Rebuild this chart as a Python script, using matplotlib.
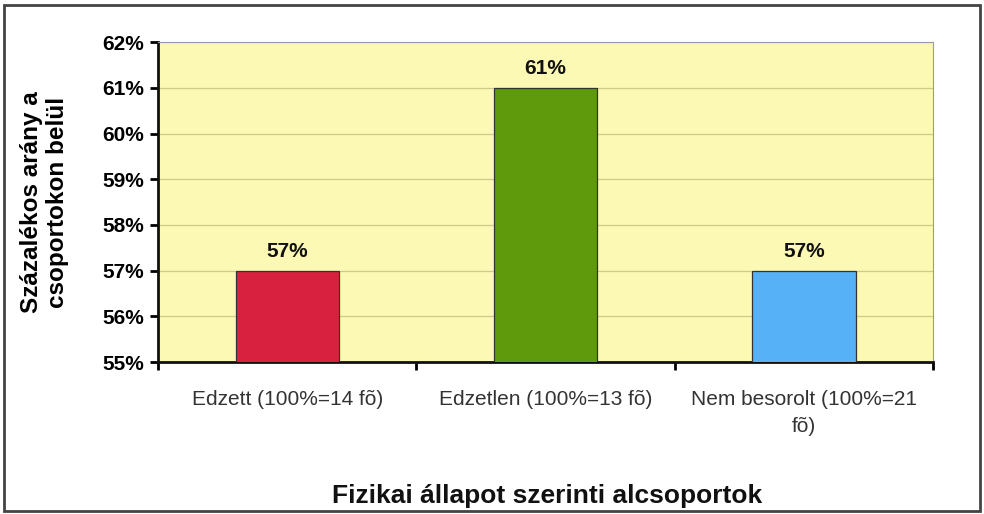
import matplotlib.pyplot as plt
from matplotlib.patches import Rectangle
from matplotlib.ticker import FuncFormatter, FixedLocator

# ---------- data -------------------------------------------------------------
categories = ["Edzett (100%=14 fõ)",
              "Edzetlen (100%=13 fõ)",
              "Nem besorolt (100%=21\nfõ)"]
values = [57, 61, 57]
bar_colors = ["#D8213F", "#5E9A0C", "#56B1F6"]
y_ticks = [55, 56, 57, 58, 59, 60, 61, 62]

# ---------- drawing ----------------------------------------------------------
plt.rcParams.update({"font.family": ["Liberation Sans", "DejaVu Sans"]})

fig = plt.figure(figsize=(9.84, 5.14), dpi=100)
ax = fig.add_axes([0.1606, 0.2957, 0.7876, 0.6223])
ax.set_facecolor("#FBF9B4")

x = range(len(categories))
bars = ax.bar(x, values, width=0.4, color=bar_colors,
              edgecolor="#333333", linewidth=0.9, zorder=3)

ax.set_ylim(y_ticks[0], y_ticks[-1])
ax.set_xlim(-0.5, len(categories) - 0.5)
ax.yaxis.set_major_locator(FixedLocator(y_ticks))
ax.yaxis.set_major_formatter(FuncFormatter(lambda v, _: f"{v:.0f}%"))
ax.grid(axis="y", color="#CFC98A", linewidth=0.9, zorder=0)

# category labels sit between the boundary ticks
ax.set_xticks([i - 0.5 for i in range(len(categories) + 1)])
ax.set_xticklabels([])
ax.set_xticks(list(x), minor=True)
ax.set_xticklabels(categories, minor=True, fontsize=15, color="#333333",
                   linespacing=1.55)
ax.tick_params(axis="x", which="minor", length=0, pad=20)
ax.tick_params(axis="x", which="major", length=6, width=2, direction="out")
ax.tick_params(axis="y", length=6, width=2, direction="out", pad=4,
               labelsize=15)
for lab in ax.get_yticklabels():
    lab.set_fontweight("bold")

for sp in ("left", "bottom"):
    ax.spines[sp].set_linewidth(2)
    ax.spines[sp].set_color("#111111")
for sp in ("top", "right"):
    ax.spines[sp].set_linestyle((0, (2, 1)))
    ax.spines[sp].set_color("#9A9AA6")
    ax.spines[sp].set_linewidth(0.8)

# value labels
for b, v in zip(bars, values):
    ax.text(b.get_x() + b.get_width() / 2, v + 0.22, f"{v}%",
            ha="center", va="bottom", fontsize=15, fontweight="bold",
            color="#111111")

ax.set_ylabel("Százalékos arány a\ncsoportokon belül", fontsize=17.5,
              fontweight="bold", labelpad=24, linespacing=1.15)
fig.text(0.556, 0.012, "Fizikai állapot szerinti alcsoportok",
         ha="center", va="bottom", fontsize=19, fontweight="bold",
         color="#111111")

# outer frame
fig.patches.append(Rectangle((0.004, 0.006), 0.992, 0.984,
                             transform=fig.transFigure, fill=False,
                             edgecolor="#444444", linewidth=2))

fig.savefig("out.png", dpi=100)
